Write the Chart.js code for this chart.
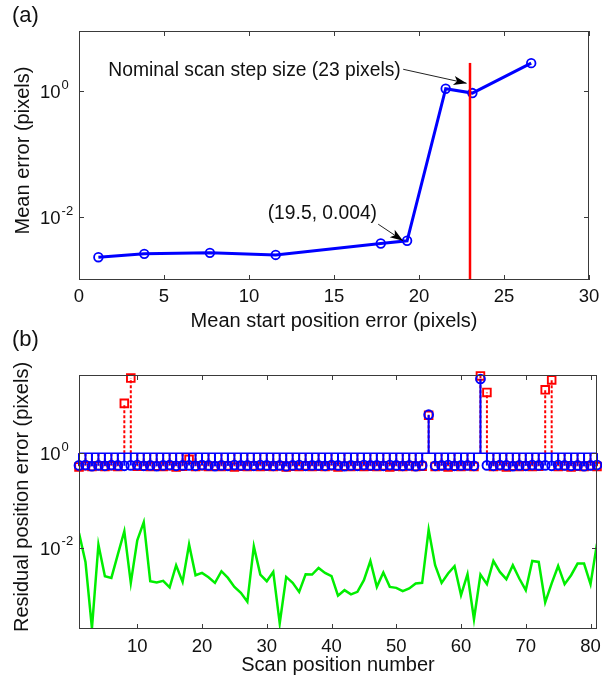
<!DOCTYPE html>
<html><head><meta charset="utf-8">
<script src="https://cdn.jsdelivr.net/npm/chart.js@4.4.0/dist/chart.umd.min.js"></script>
<style>
html,body{margin:0;padding:0;background:#fff;}
#wrap{position:relative;width:602px;height:681px;overflow:hidden;background:#fff;}
canvas{position:absolute;left:0;}
#ca{top:0;} #cb{top:326px;}
</style></head><body>
<div id="wrap"><canvas id="ca" width="602" height="340"></canvas><canvas id="cb" width="602" height="355"></canvas></div>
<script>
// ---------- data, panel (a) ----------
const startErr = [1.14, 3.84, 7.7, 11.57, 17.75, 19.3, 21.57, 23.14, 26.6];
const meanErr  = [0.0023, 0.0026, 0.0027, 0.0025, 0.0038, 0.0042, 1.09, 0.93, 2.78];
const nominalStep = 23;
const nominalLineTop = 2.8;
const aXTicks = [0, 5, 10, 15, 20, 25, 30];
const aYTickExps = [-2, 0];

// ---------- data, panel (b) ----------
const scanPos = Array.from({length: 81}, (_, k) => k + 1);
const blueVals = [
  0.55,0.56,0.53,0.55,0.54,0.56,0.55,0.54,0.55,0.56,
  0.54,0.55,0.53,0.55,0.56,0.54,0.55,0.55,0.54,0.56,
  0.55,0.53,0.55,0.54,0.56,0.55,0.55,0.54,0.56,0.55,
  0.54,0.55,0.53,0.55,0.56,0.54,0.55,0.55,0.54,0.56,
  0.55,0.53,0.55,0.54,0.56,0.55,0.55,0.54,0.56,0.55,
  0.54,0.55,0.53,0.55,6.5,0.54,0.55,0.56,0.54,0.55,
  0.55,0.54,37,0.55,0.54,0.56,0.55,0.53,0.55,0.54,
  0.56,0.55,0.55,0.54,0.56,0.55,0.54,0.55,0.53,0.55,
  0.56];
const redVals = [
  0.51,0.54,0.52,0.54,0.52,0.54,0.52,11.3,38.7,0.53,
  0.53,0.52,0.53,0.52,0.54,0.51,0.53,0.74,0.52,0.54,
  0.52,0.53,0.52,0.54,0.51,0.53,0.52,0.54,0.52,0.53,
  0.52,0.54,0.51,0.53,0.52,0.54,0.52,0.53,0.52,0.54,
  0.51,0.53,0.52,0.54,0.52,0.53,0.52,0.54,0.51,0.53,
  0.52,0.54,0.52,0.53,6.3,0.52,0.54,0.51,0.53,0.52,
  0.54,0.52,43,19.2,0.52,0.54,0.51,0.53,0.52,0.54,
  0.52,0.53,21.9,35.5,0.52,0.54,0.51,0.53,0.52,0.54,
  0.52];
const greenVals = [
  0.0203,0.00498,0.000197,0.01156,0.00249,0.00229,0.00723,0.0223,0.0018,0.01426,
  0.0346,0.00195,0.00183,0.00198,0.00144,0.00424,0.00189,0.0117,0.00261,0.00292,
  0.00237,0.0018,0.00317,0.00229,0.00148,0.00111,0.000716,0.01064,0.0027,0.00195,
  0.00306,0.000251,0.0024,0.0018,0.00116,0.00274,0.0027,0.00372,0.00292,0.00249,
  0.000966,0.00126,0.001025,0.00116,0.00205,0.00522,0.00148,0.00298,0.00148,0.00141,
  0.0012,0.00137,0.00175,0.0018,0.0239,0.00424,0.0018,0.00284,0.00404,0.00099,
  0.00274,0.000305,0.0027,0.00169,0.00522,0.00306,0.00215,0.00424,0.00222,0.00126,
  0.00522,0.00498,0.000695,0.00175,0.0041,0.00169,0.00261,0.0046,0.0046,0.00169,
  0.01213];
const stemBase = 1;
const bXTicks = [10, 20, 30, 40, 50, 60, 70, 80];
const bYTickExps = [-2, 0];

// ---------- styling helpers ----------
const FONT = '"Liberation Sans", Arial, Helvetica, sans-serif';
const TICK_PX = 18.5, TITLE_PX = 20, EXP_PX = 13, ANN_PX = 19.3;

function framePlugin(opt) {
  return {
    id: 'frame_' + opt.name,
    afterDraw(chart) {
      const {ctx, chartArea: a, scales: {x, y}} = chart;
      ctx.save();
      ctx.strokeStyle = '#3a3a3a';
      ctx.lineWidth = 1;
      ctx.strokeRect(Math.round(a.left) + 0.5, Math.round(a.top) + 0.5,
                     Math.round(a.right - a.left) - 1, Math.round(a.bottom - a.top) - 1);
      ctx.beginPath();
      opt.xTicks.forEach(v => {
        const px = Math.round(x.getPixelForValue(v)) + 0.5;
        ctx.moveTo(px, a.bottom); ctx.lineTo(px, a.bottom - 5);
        ctx.moveTo(px, a.top); ctx.lineTo(px, a.top + 5);
      });
      opt.yExps.forEach(e => {
        const py = Math.round(y.getPixelForValue(Math.pow(10, e))) + 0.5;
        ctx.moveTo(a.left, py); ctx.lineTo(a.left + 5, py);
        ctx.moveTo(a.right, py); ctx.lineTo(a.right - 5, py);
      });
      ctx.stroke();
      // tick labels
      ctx.fillStyle = '#111';
      ctx.font = TICK_PX + 'px ' + FONT;
      ctx.textAlign = 'center'; ctx.textBaseline = 'middle';
      opt.xTicks.forEach(v => {
        ctx.fillText(String(v), x.getPixelForValue(v), a.bottom + opt.xLabelGap);
      });
      opt.yExps.forEach(e => {
        const py = y.getPixelForValue(Math.pow(10, e));
        ctx.font = TICK_PX + 'px ' + FONT;
        ctx.textAlign = 'left';
        const bx = a.left - 39;
        ctx.fillText('10', bx, py + 2);
        const bw = ctx.measureText('10').width;
        ctx.font = EXP_PX + 'px ' + FONT;
        ctx.fillText(String(e), bx + bw + 1, py - 6);
      });
      // titles
      ctx.font = TITLE_PX + 'px ' + FONT;
      ctx.textAlign = 'center';
      ctx.fillText(opt.xTitle, (a.left + a.right) / 2, a.bottom + opt.xTitleGap);
      ctx.save();
      ctx.translate(opt.yTitleX, (a.top + a.bottom) / 2 + opt.yTitleDy);
      ctx.rotate(-Math.PI / 2);
      ctx.fillText(opt.yTitle, 0, 0);
      ctx.restore();
      // panel label
      ctx.font = '22px ' + FONT;
      ctx.textAlign = 'left';
      ctx.fillText(opt.panel, 12, opt.panelY);
      ctx.restore();
    }
  };
}

function arrow(ctx, x0, y0, x1, y1) {
  ctx.beginPath();
  ctx.moveTo(x0, y0); ctx.lineTo(x1, y1);
  ctx.strokeStyle = '#222'; ctx.lineWidth = 1; ctx.stroke();
  const ang = Math.atan2(y1 - y0, x1 - x0), L = 13, W = 4.5;
  ctx.beginPath();
  ctx.moveTo(x1, y1);
  ctx.lineTo(x1 - L * Math.cos(ang) + W * Math.sin(ang), y1 - L * Math.sin(ang) - W * Math.cos(ang));
  ctx.lineTo(x1 - L * 0.75 * Math.cos(ang), y1 - L * 0.75 * Math.sin(ang));
  ctx.lineTo(x1 - L * Math.cos(ang) - W * Math.sin(ang), y1 - L * Math.sin(ang) + W * Math.cos(ang));
  ctx.closePath();
  ctx.fillStyle = '#000'; ctx.fill();
}

const annotations = [
  {text: 'Nominal scan step size (23 pixels)', tx: 1.72, ty: 2.1, ax0: 19.07, ay0: 2.22, ax1: 22.8, ay1: 1.33},
  {text: '(19.5, 0.004)', tx: 11.1, ty: 0.0112, ax0: 17.6, ay0: 0.0077, ax1: 19.06, ay1: 0.0042}
];

const annPlugin = {
  id: 'ann',
  afterDatasetsDraw(chart) {
    const {ctx, scales: {x, y}} = chart;
    ctx.save();
    annotations.forEach(an => {
      ctx.font = ANN_PX + 'px ' + FONT;
      ctx.fillStyle = '#111';
      ctx.textAlign = 'left'; ctx.textBaseline = 'middle';
      ctx.fillText(an.text, x.getPixelForValue(an.tx), y.getPixelForValue(an.ty));
      arrow(ctx, x.getPixelForValue(an.ax0), y.getPixelForValue(an.ay0),
                 x.getPixelForValue(an.ax1), y.getPixelForValue(an.ay1));
    });
    ctx.restore();
  }
};

Chart.defaults.font.family = FONT;

// ---------- chart (a) ----------
new Chart(document.getElementById('ca'), {
  type: 'scatter',
  data: {
    datasets: [
      {
        data: startErr.map((v, k) => ({x: v, y: meanErr[k]})),
        showLine: true, borderColor: '#0000ff', borderWidth: 3,
        pointStyle: 'circle', pointRadius: 4.3, pointBorderWidth: 1.8,
        pointBorderColor: '#0000ff', pointBackgroundColor: 'rgba(0,0,0,0)',
        tension: 0, order: 1
      },
      {
        data: [{x: nominalStep, y: 1e-3}, {x: nominalStep, y: nominalLineTop}],
        showLine: true, borderColor: '#ff0000', borderWidth: 2.5, pointRadius: 0, order: 0
      }
    ]
  },
  options: {
    responsive: false, animation: false, devicePixelRatio: 1, events: [],
    layout: {padding: {left: 79, top: 31, right: 13, bottom: 60}},
    plugins: {legend: {display: false}, tooltip: {enabled: false}},
    scales: {
      x: {type: 'linear', min: 0, max: 30, display: false},
      y: {type: 'logarithmic', min: 1e-3, max: 9, display: false}
    }
  },
  plugins: [annPlugin, framePlugin({
    name: 'a', xTicks: aXTicks, yExps: aYTickExps, xLabelGap: 17, xTitleGap: 41,
    xTitle: 'Mean start position error (pixels)', yTitle: 'Mean error (pixels)',
    yTitleX: 23, yTitleDy: -5, panel: '(a)', panelY: 16
  })]
});

// ---------- chart (b) ----------
function stems(vals) {
  const d = [];
  vals.forEach((v, k) => {
    d.push({x: scanPos[k], y: stemBase}, {x: scanPos[k], y: v}, {x: scanPos[k], y: null});
  });
  return d;
}
new Chart(document.getElementById('cb'), {
  type: 'scatter',
  data: {
    datasets: [
      {
        data: stems(blueVals), showLine: true, spanGaps: false, clip: false,
        borderColor: '#0000ff', borderWidth: 2,
        pointStyle: 'circle', pointRadius: c => (c.dataIndex % 3 === 1 ? 4.4 : 0),
        pointBorderWidth: 1.9, pointBorderColor: '#0000ff', pointBackgroundColor: 'rgba(0,0,0,0)',
        order: 0
      },
      {
        data: [{x: scanPos[0], y: stemBase}, {x: scanPos[scanPos.length - 1], y: stemBase}],
        showLine: true, borderColor: '#0000ff', borderWidth: 1.5, pointRadius: 0, order: 1
      },
      {
        data: stems(redVals), showLine: true, spanGaps: false, clip: false,
        borderColor: '#ff0000', borderWidth: 2, borderDash: [3, 2],
        pointStyle: 'rect', pointRadius: c => (c.dataIndex % 3 === 1 ? 5.4 : 0),
        pointBorderWidth: 1.9, pointBorderColor: '#ff0000', pointBackgroundColor: 'rgba(0,0,0,0)',
        order: 2
      },
      {
        data: scanPos.map((p, k) => ({x: p, y: greenVals[k]})),
        showLine: true, borderColor: '#00ee00', borderWidth: 2.5, pointRadius: 0, tension: 0,
        order: 3
      }
    ]
  },
  options: {
    responsive: false, animation: false, devicePixelRatio: 1, events: [],
    layout: {padding: {left: 79, top: 49, right: 5, bottom: 52}},
    plugins: {legend: {display: false}, tooltip: {enabled: false}},
    scales: {
      x: {type: 'linear', min: 1, max: 81, display: false},
      y: {type: 'logarithmic', min: 1.9e-4, max: 45, display: false}
    }
  },
  plugins: [framePlugin({
    name: 'b', xTicks: bXTicks, yExps: bYTickExps, xLabelGap: 18, xTitleGap: 36,
    xTitle: 'Scan position number', yTitle: 'Residual position error (pixels)',
    yTitleX: 22, yTitleDy: -5, panel: '(b)', panelY: 14
  })]
});
</script>
</body></html>
